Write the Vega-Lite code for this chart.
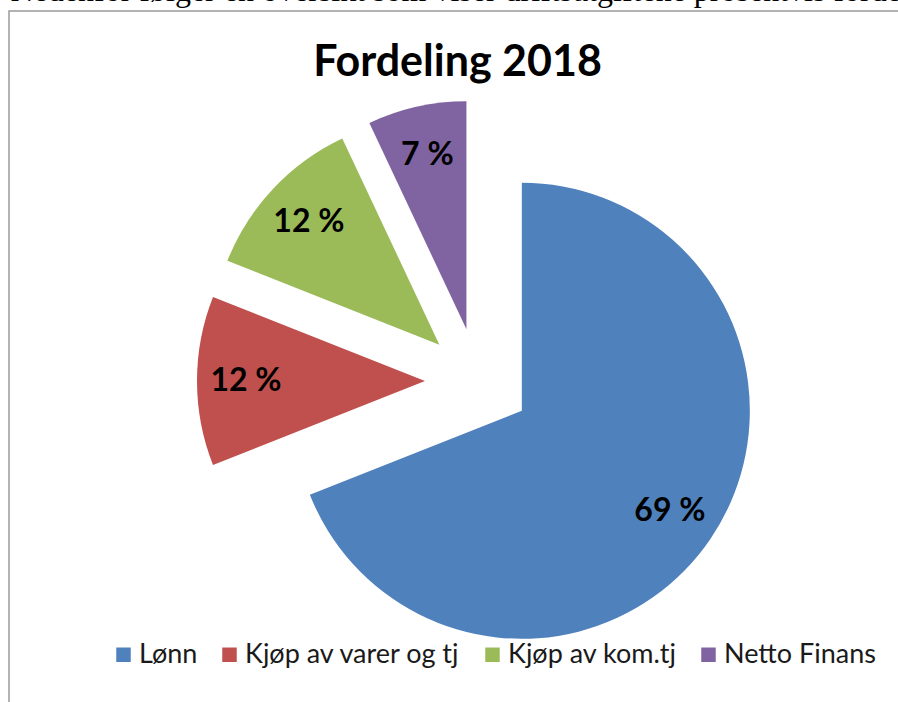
{
  "$schema": "https://vega.github.io/schema/vega-lite/v6.json",
  "width": 889,
  "height": 691,
  "autosize": {"type": "none"},
  "padding": {"left": 9, "top": 11, "right": 0, "bottom": 0},
  "background": "white",
  "title": {
    "text": "Fordeling 2018",
    "font": "Lato",
    "fontSize": 43,
    "fontWeight": "bold",
    "color": "#000000",
    "anchor": "middle",
    "frame": "group",
    "orient": "top",
    "baseline": "alphabetic",
    "offset": -145,
    "dx": 4
  },
  "data": {
    "values": [
      {"category": "Lønn", "value": 69, "label": "69 %"},
      {"category": "Kjøp av varer og tj", "value": 12, "label": "12 %"},
      {"category": "Kjøp av kom.tj", "value": 12, "label": "12 %"},
      {"category": "Netto Finans", "value": 7, "label": "7 %"}
    ]
  },
  "transform": [
    {"window": [{"op": "sum", "field": "value", "as": "end"}]},
    {"joinaggregate": [{"op": "sum", "field": "value", "as": "total"}]},
    {"calculate": "datum.end - datum.value", "as": "start"},
    {"calculate": "datum.end - datum.value / 2", "as": "mid"},
    {"calculate": "53 * sin(2 * PI * datum.mid / datum.total)", "as": "dx"},
    {"calculate": "-53 * cos(2 * PI * datum.mid / datum.total)", "as": "dy"}
  ],
  "encoding": {
    "x": {
      "field": "dx",
      "type": "quantitative",
      "stack": false,
      "scale": {"domain": [-469, 420], "nice": false, "zero": false},
      "axis": {
        "orient": "top",
        "labels": false,
        "ticks": false,
        "domain": false,
        "grid": false,
        "title": "Nedenfor følger en oversikt som viser driftsutgiftene prosentvis fordelt",
        "titleFont": "Liberation Serif",
        "titleFontSize": 32,
        "titleFontWeight": "normal",
        "titleColor": "#000000",
        "titleAnchor": "start",
        "titleAlign": "left",
        "titleBaseline": "alphabetic",
        "titleX": 1,
        "titleY": -11,
        "titleLimit": 3000
      }
    },
    "y": {
      "field": "dy",
      "type": "quantitative",
      "stack": false,
      "scale": {"domain": [-370, 321], "reverse": true, "nice": false, "zero": false},
      "axis": null
    }
  },
  "layer": [
    {
      "mark": {"type": "arc", "radius": 228},
      "encoding": {
        "theta": {"field": "start", "type": "quantitative", "scale": {"domain": [0, 100]}},
        "theta2": {"field": "end"},
        "color": {
          "field": "category",
          "type": "nominal",
          "sort": null,
          "scale": {
            "domain": ["Lønn", "Kjøp av varer og tj", "Kjøp av kom.tj", "Netto Finans"],
            "range": ["#4F81BD", "#C0504D", "#9BBB59", "#8064A2"]
          },
          "legend": {
            "orient": "none",
            "legendX": 101,
            "legendY": 630,
            "direction": "horizontal",
            "title": null,
            "symbolType": "square",
            "symbolSize": 210,
            "symbolStrokeWidth": 0,
            "symbolOpacity": 1,
            "labelFont": "Lato",
            "labelFontSize": 27,
            "labelColor": "#1a1a1a",
            "labelOffset": 2,
            "columnPadding": 18,
            "labelLimit": 500,
            "padding": 0
          }
        }
      }
    },
    {
      "mark": {"type": "text", "radius": 179, "font": "Lato", "fontSize": 32, "fontWeight": "bold", "color": "#000000", "align": "center", "baseline": "middle"},
      "encoding": {
        "theta": {"field": "mid", "type": "quantitative"},
        "text": {"field": "label"}
      }
    }
  ],
  "config": {
    "view": {"stroke": "#9a9a9a", "strokeWidth": 1.5, "strokeDash": [889, 1580, 691]}
  }
}
